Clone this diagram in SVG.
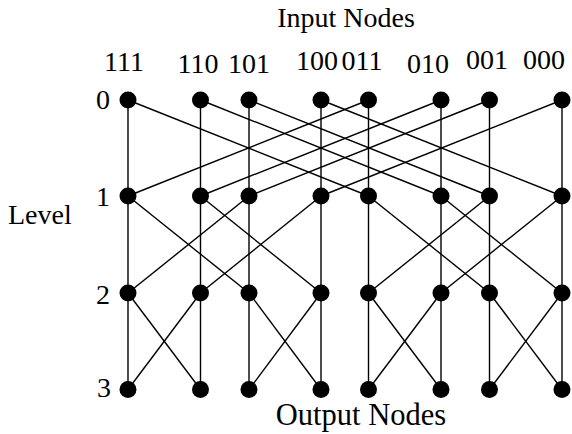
<svg xmlns="http://www.w3.org/2000/svg" width="572" height="434" viewBox="0 0 572 434">
<style>
text{font-family:"Liberation Serif","Times New Roman",serif;fill:#000}
.lbl{font-size:28px;text-anchor:middle}
.ttl{text-anchor:middle}
#edges line{stroke:#000;stroke-width:1.4}
.n{fill:#000}
</style>
<rect width="572" height="434" fill="#fff"/>
<text class="ttl" x="346" y="27" font-size="28">Input Nodes</text>
<text class="ttl" x="361" y="425" font-size="30.5">Output Nodes</text>
<text x="8" y="224" font-size="28">Level</text>
<g class="lbl">
<text x="124" y="71">111</text>
<text x="198" y="73">110</text>
<text x="249" y="73">101</text>
<text x="317" y="70">100</text>
<text x="362" y="70">011</text>
<text x="428" y="73">010</text>
<text x="487" y="69">001</text>
<text x="544" y="69">000</text>
<text x="103" y="109">0</text>
<text x="103" y="206">1</text>
<text x="103" y="304">2</text>
<text x="104" y="397">3</text>
</g>
<g id="edges">
<!-- verticals -->
<line x1="128" y1="100" x2="128" y2="389.5"/>
<line x1="200.5" y1="100" x2="200.5" y2="389.5"/>
<line x1="249" y1="100" x2="249" y2="389.5"/>
<line x1="321" y1="100" x2="321" y2="389.5"/>
<line x1="368.5" y1="100" x2="368.5" y2="389.5"/>
<line x1="441" y1="100" x2="441" y2="389.5"/>
<line x1="489.5" y1="100" x2="489.5" y2="389.5"/>
<line x1="562" y1="100" x2="562" y2="389.5"/>
<!-- level 0 to 1, stride 4 -->
<line x1="128" y1="100" x2="368.5" y2="196"/>
<line x1="200.5" y1="100" x2="441" y2="196"/>
<line x1="249" y1="100" x2="489.5" y2="196"/>
<line x1="321" y1="100" x2="562" y2="196"/>
<line x1="368.5" y1="100" x2="128" y2="196"/>
<line x1="441" y1="100" x2="200.5" y2="196"/>
<line x1="489.5" y1="100" x2="249" y2="196"/>
<line x1="562" y1="100" x2="321" y2="196"/>
<!-- level 1 to 2, stride 2 -->
<line x1="128" y1="196" x2="249" y2="293"/>
<line x1="249" y1="196" x2="128" y2="293"/>
<line x1="200.5" y1="196" x2="321" y2="293"/>
<line x1="321" y1="196" x2="200.5" y2="293"/>
<line x1="368.5" y1="196" x2="489.5" y2="293"/>
<line x1="489.5" y1="196" x2="368.5" y2="293"/>
<line x1="441" y1="196" x2="562" y2="293"/>
<line x1="562" y1="196" x2="441" y2="293"/>
<!-- level 2 to 3, stride 1 -->
<line x1="128" y1="293" x2="200.5" y2="389.5"/>
<line x1="200.5" y1="293" x2="128" y2="389.5"/>
<line x1="249" y1="293" x2="321" y2="389.5"/>
<line x1="321" y1="293" x2="249" y2="389.5"/>
<line x1="368.5" y1="293" x2="441" y2="389.5"/>
<line x1="441" y1="293" x2="368.5" y2="389.5"/>
<line x1="489.5" y1="293" x2="562" y2="389.5"/>
<line x1="562" y1="293" x2="489.5" y2="389.5"/>
</g>
<g id="row0" class="n">
<circle id="n0-111" cx="128" cy="100" r="8.5"/>
<circle id="n0-110" cx="200.5" cy="100" r="8.5"/>
<circle id="n0-101" cx="249" cy="100" r="8.5"/>
<circle id="n0-100" cx="321" cy="100" r="8.5"/>
<circle id="n0-011" cx="368.5" cy="100" r="8.5"/>
<circle id="n0-010" cx="441" cy="100" r="8.5"/>
<circle id="n0-001" cx="489.5" cy="100" r="8.5"/>
<circle id="n0-000" cx="562" cy="100" r="8.5"/>
</g>
<g id="row1" class="n">
<circle id="n1-0" cx="128" cy="196" r="8.5"/>
<circle id="n1-1" cx="200.5" cy="196" r="8.5"/>
<circle id="n1-2" cx="249" cy="196" r="8.5"/>
<circle id="n1-3" cx="321" cy="196" r="8.5"/>
<circle id="n1-4" cx="368.5" cy="196" r="8.5"/>
<circle id="n1-5" cx="441" cy="196" r="8.5"/>
<circle id="n1-6" cx="489.5" cy="196" r="8.5"/>
<circle id="n1-7" cx="562" cy="196" r="8.5"/>
</g>
<g id="row2" class="n">
<circle id="n2-0" cx="128" cy="293" r="8.5"/>
<circle id="n2-1" cx="200.5" cy="293" r="8.5"/>
<circle id="n2-2" cx="249" cy="293" r="8.5"/>
<circle id="n2-3" cx="321" cy="293" r="8.5"/>
<circle id="n2-4" cx="368.5" cy="293" r="8.5"/>
<circle id="n2-5" cx="441" cy="293" r="8.5"/>
<circle id="n2-6" cx="489.5" cy="293" r="8.5"/>
<circle id="n2-7" cx="562" cy="293" r="8.5"/>
</g>
<g id="row3" class="n">
<circle id="n3-0" cx="128" cy="389.5" r="8.5"/>
<circle id="n3-1" cx="200.5" cy="389.5" r="8.5"/>
<circle id="n3-2" cx="249" cy="389.5" r="8.5"/>
<circle id="n3-3" cx="321" cy="389.5" r="8.5"/>
<circle id="n3-4" cx="368.5" cy="389.5" r="8.5"/>
<circle id="n3-5" cx="441" cy="389.5" r="8.5"/>
<circle id="n3-6" cx="489.5" cy="389.5" r="8.5"/>
<circle id="n3-7" cx="562" cy="389.5" r="8.5"/>
</g>
</svg>
